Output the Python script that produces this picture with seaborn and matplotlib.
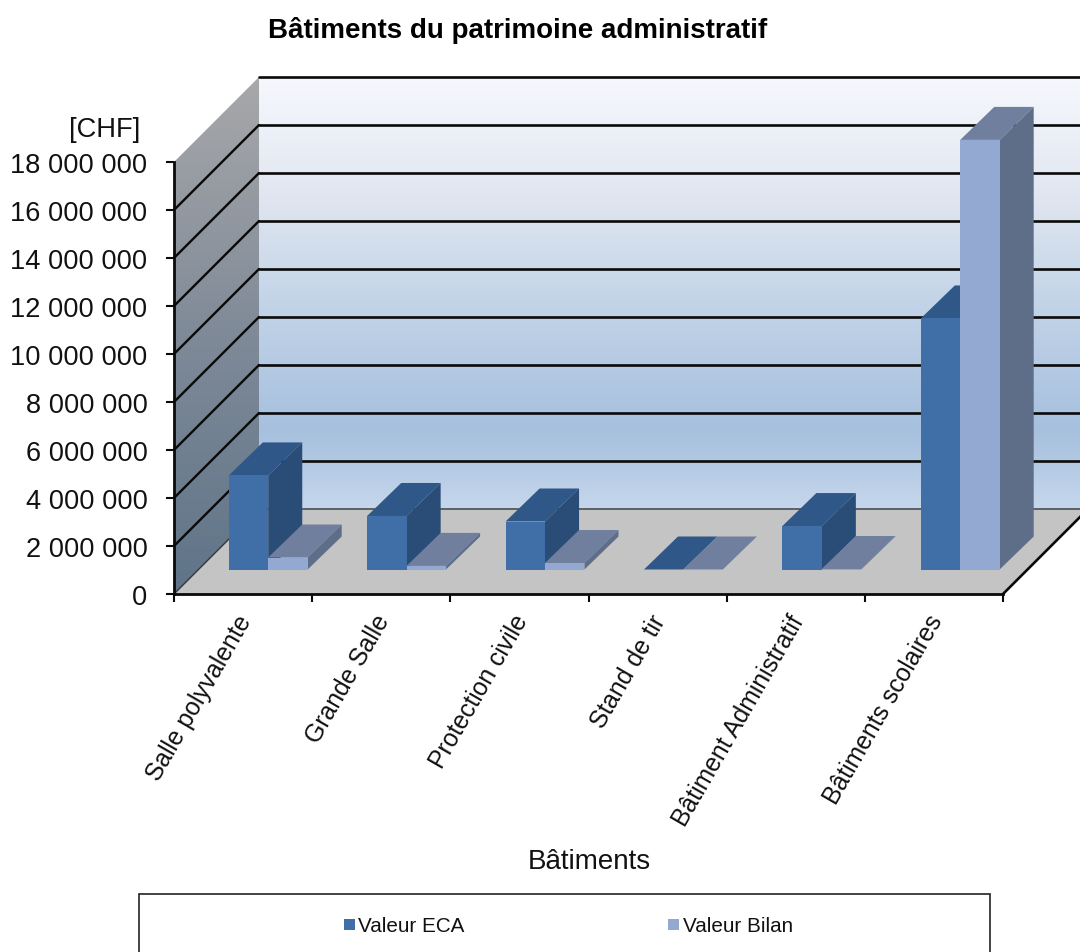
# Imports

import numpy             as np
import pandas            as pd
import seaborn           as sns
import matplotlib
matplotlib.use("Agg")
import matplotlib.pyplot as plt
from matplotlib.colors   import LinearSegmentedColormap
from matplotlib.patches  import Polygon, Rectangle

#####

# Data

batiments    = ["Salle polyvalente", "Grande Salle", "Protection civile", "Stand de tir", "Bâtiment Administratif", "Bâtiments scolaires"]
valeur_eca   = [3920000, 2230000, 2000000, 0, 1810000, 10460000]
valeur_bilan = [500000, 150000, 270000, 0, 20000, 17900000]
series       = ["Valeur ECA", "Valeur Bilan"]
y_ticks      = [0, 2000000, 4000000, 6000000, 8000000, 10000000, 12000000, 14000000, 16000000, 18000000]
y_labels     = ["0", "2 000 000", "4 000 000", "6 000 000", "8 000 000", "10 000 000", "12 000 000", "14 000 000", "16 000 000", "18 000 000"]

#####

# Setting the basic appearance

sns.set_theme(style = "white")
plt.rcParams["font.family"] = ["Liberation Sans", "DejaVu Sans"]

W, H     = 1080, 953
TEXT     = "#111111"
WALL     = [(0, "#c6d7ec"), (0.18, "#a6c0de"), (0.48, "#c3d4e8"), (0.72, "#e0e6f0"), (1, "#f6f8fd")]
SIDE     = [(0, "#5f7488"), (0.5, "#7f8a98"), (1, "#a8a8aa")]
FRONT    = {"Valeur ECA": "#3f6fa6", "Valeur Bilan": "#93a9d1"}
TOP      = {"Valeur ECA": "#2f5788", "Valeur Bilan": "#717f9f"}
RIGHT    = {"Valeur ECA": "#2a4d78", "Valeur Bilan": "#5f6e88"}

def axes_box(left, bottom, right, top):
    """Pixel box (from the top left corner of the image) to a figure fraction rectangle."""
    return [left / W, 1 - bottom / H, (right - left) / W, (bottom - top) / H]

fig = plt.figure(figsize = (W / 100, H / 100), dpi = 100, facecolor = "white")

#####

# Chart box : side wall, back wall, floor and grid

ax = fig.add_axes(axes_box(174, 595, 1003, 163), zorder = 0)
ax.patch.set_visible(False)
xmax, ymax = len(batiments), y_ticks[-1]
dx = 85 / 829 * xmax
dy = 85 / 432 * ymax

wall_cmap = LinearSegmentedColormap.from_list("wall", WALL)
side_cmap = LinearSegmentedColormap.from_list("side", SIDE)
ramp      = np.linspace(1, 0, 256).reshape(-1, 1)

ax.imshow(ramp, cmap = wall_cmap, vmin = 0, vmax = 1, aspect = "auto", zorder = 1, clip_on = False,
          extent = (dx, xmax + dx, dy, ymax + dy))
side_image = ax.imshow(ramp, cmap = side_cmap, vmin = 0, vmax = 1, aspect = "auto", zorder = 1,
                       extent = (0, dx, 0, ymax + dy))
side_image.set_clip_box(fig.bbox)
side_image.set_clip_path(Polygon([(0, 0), (dx, dy), (dx, ymax + dy), (0, ymax)], transform = ax.transData))
ax.add_patch(Polygon([(0, 0), (xmax, 0), (xmax + dx, dy), (dx, dy)], facecolor = "#c4c4c4", edgecolor = "none", zorder = 1.5, clip_on = False))

for tick in y_ticks[1:]:
    ax.plot([dx, xmax + dx], [tick + dy, tick + dy], color = "#0a0a0a", lw = 1.9, zorder = 2, clip_on = False)
for tick in y_ticks[1:-1]:
    ax.plot([0, dx], [tick, tick + dy], color = "#0a0a0a", lw = 1.7, zorder = 2, clip_on = False)
ax.plot([dx, xmax + dx], [dy, dy], color = "#55595f", lw = 1.3, zorder = 2, clip_on = False)
ax.plot([0, dx], [0, dy], color = "#33363a", lw = 1.0, zorder = 2, clip_on = False)
ax.plot([xmax, xmax + dx], [0, dy], color = "#0a0a0a", lw = 1.9, zorder = 2, clip_on = False)

ax.set_xlim(0, xmax)
ax.set_ylim(0, ymax)
ax.set_yticks(y_ticks)
ax.set_yticklabels(y_labels, size = 19.6, color = TEXT, va = "center_baseline")
ax.set_xticks(range(xmax + 1))
ax.set_xticklabels([])
ax.set_xticks(np.arange(xmax) + 0.52, minor = True)
ax.set_xticklabels(batiments, minor = True, rotation = 60, ha = "right", va = "center", rotation_mode = "anchor", size = 17.8, color = TEXT)
ax.tick_params(axis = "both", which = "major", length = 6, width = 1.5, color = "#0a0a0a", bottom = True, left = True)
ax.tick_params(axis = "y", which = "major", pad = 13)
ax.tick_params(axis = "x", which = "minor", length = 0, pad = 16)
sns.despine(ax = ax)
for side in ["left", "bottom"]:
    ax.spines[side].set_linewidth(2)
    ax.spines[side].set_color("#0a0a0a")
    ax.spines[side].set_zorder(4)

#####

# Bars : seaborn draws the front faces on a plane set 24 px into the box

df = pd.DataFrame({"batiment": batiments * 2,
                   "serie"   : [series[0]] * 6 + [series[1]] * 6,
                   "valeur"  : valeur_eca + valeur_bilan})

ax_bars = fig.add_axes(axes_box(199, 570.5, 1029.4, 138.5), zorder = 1)
sns.barplot(data = df, x = "batiment", y = "valeur", hue = "serie", palette = FRONT, saturation = 1,
            width = 0.57, gap = 0, legend = False, ax = ax_bars)
ax_bars.set_xlim(-0.5, xmax - 0.5)
ax_bars.set_ylim(0, ymax)
ax_bars.axis("off")

bar_dx = 34 / 829 * xmax
bar_dy = 33 / 432 * ymax

for s, container in enumerate(ax_bars.containers):
    serie = series[s]
    for b, bar in enumerate(container):
        x0, x1 = bar.get_x(), bar.get_x() + bar.get_width()
        y1     = bar.get_height()
        z      = 3 + b * 3 + s
        bar.set_clip_on(False)
        bar.set_edgecolor("none")
        bar.set_zorder(z + 0.5)
        ax_bars.add_patch(Polygon([(x0, y1), (x1, y1), (x1 + bar_dx, y1 + bar_dy), (x0 + bar_dx, y1 + bar_dy)],
                                  facecolor = TOP[serie], edgecolor = "none", zorder = z, clip_on = False))
        ax_bars.add_patch(Polygon([(x1, 0), (x1 + bar_dx, bar_dy), (x1 + bar_dx, y1 + bar_dy), (x1, y1)],
                                  facecolor = RIGHT[serie], edgecolor = "none", zorder = z, clip_on = False))

#####

# Texts and legend box (cut by the bottom of the image, as in the source)

fig.text(518 / W, 1 - 31 / H, "Bâtiments du patrimoine administratif", size = 20, weight = "bold", color = "black", ha = "center", va = "center")
fig.text(140 / W, 1 - 130 / H, "[CHF]", size = 19.6, color = TEXT, ha = "right", va = "center")
fig.text(589 / W, 1 - 862 / H, "Bâtiments", size = 20, color = TEXT, ha = "center", va = "center")

fig.add_artist(Rectangle((139 / W, 1 - 990 / H), 851 / W, 95 / H, transform = fig.transFigure, facecolor = "white", edgecolor = "#222222", lw = 1.2))
for name, marker_x, text_x in zip(series, [344, 668], [358, 683]):
    fig.add_artist(Rectangle((marker_x / W, 1 - 931 / H), 11 / W, 11 / H, transform = fig.transFigure, facecolor = FRONT[name], edgecolor = "none"))
    fig.text(text_x / W, 1 - 927 / H, name, size = 14.9, color = TEXT, ha = "left", va = "center")

fig.savefig("out.png", dpi = 100)
